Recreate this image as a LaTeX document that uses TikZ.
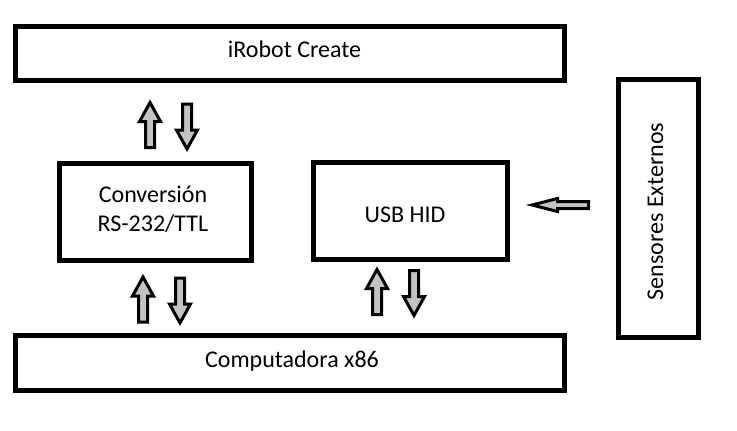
\documentclass[tikz,border=0pt]{standalone}
\usepackage{fontspec}
\setmainfont{Carlito}
\definecolor{arrowgray}{RGB}{195,195,195}
\begin{document}
\begin{tikzpicture}[x=1pt,y=-1pt,
  box/.style={draw=black, line width=5pt, inner sep=0pt},
  txt/.style={font=\fontsize{24}{29}\selectfont, anchor=base, inner sep=0pt},
  arr/.style={draw=black, fill=arrowgray, line width=3pt, line join=miter},
  upbarrow/.pic={\draw[arr] (-4.5,23.5) -- (-4.5,-2.5) -- (-10.5,-2.5) -- (0,-21.5) -- (10.5,-2.5) -- (4.5,-2.5) -- (4.5,23.5) -- cycle;},
  downbarrow/.pic={\draw[arr] (-4.5,-23.5) -- (-4.5,2.5) -- (-10.5,2.5) -- (0,21.5) -- (10.5,2.5) -- (4.5,2.5) -- (4.5,-23.5) -- cycle;}
]
\useasboundingbox (0,0) rectangle (737,431);
\fill[white] (0,0) rectangle (737,431);

% boxes
\node[box, minimum width=549pt, minimum height=54pt] (irobot) at (290,53.5) {};
\node[box, minimum width=549pt, minimum height=55pt] (pc) at (290,363) {};
\node[box, minimum width=192pt, minimum height=97pt] (conv) at (155.5,212) {};
\node[box, minimum width=194pt, minimum height=97pt] (usb) at (410.5,211) {};
\node[box, minimum width=80pt, minimum height=258pt] (sens) at (658.5,208.5) {};

% texts
\node[txt] (tirobot) at (294.5,57) {iRobot Create};
\node[txt] (tpc) at (292,367) {Computadora x86};
\node[txt] (tconv1) at (153,202) {Conversión};
\node[txt] (tconv2) at (153,231) {RS-232/TTL};
\node[txt] (tusb) at (405,222.5) {USB HID};
\node[txt, rotate=90] (tsens) at (663,211.5) {Sensores Externos};

% block arrows
\pic (a1) at (150,124) {upbarrow};
\pic (a2) at (187,127.5) {downbarrow};
\pic (a3) at (143,298.5) {upbarrow};
\pic (a4) at (180,301.5) {downbarrow};
\pic (a5) at (377,291) {upbarrow};
\pic (a6) at (414,294) {downbarrow};
\draw[arr] (588.5,201.5) -- (557.5,201.5) -- (557.5,198.5) -- (532,205) -- (557.5,211.5) -- (557.5,208.5) -- (588.5,208.5) -- cycle;
\end{tikzpicture}
\end{document}
